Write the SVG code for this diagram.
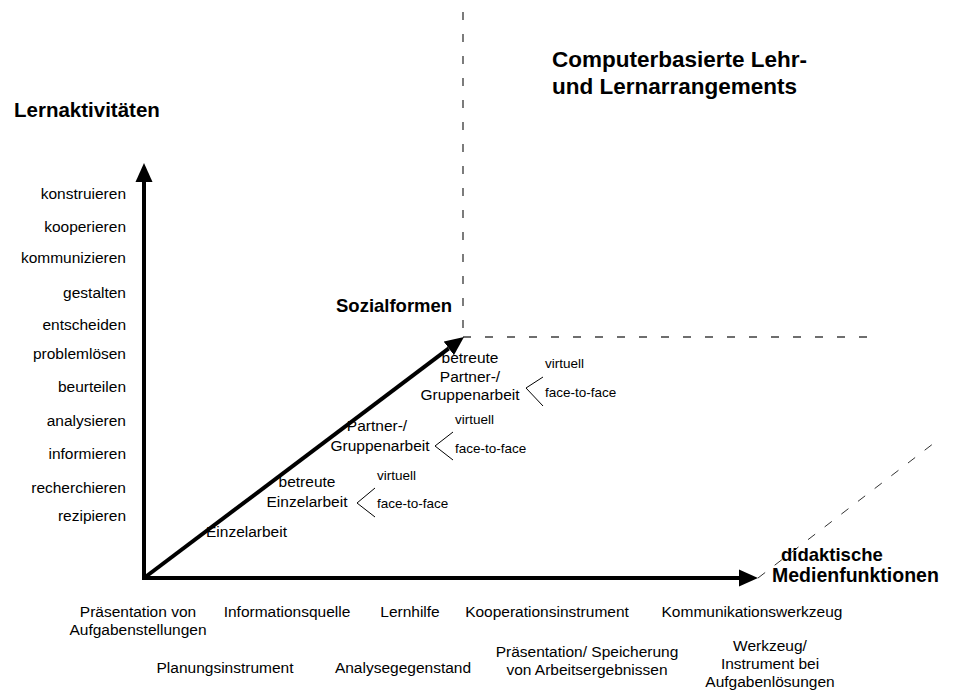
<svg xmlns="http://www.w3.org/2000/svg" width="953" height="691" viewBox="0 0 953 691">
<style>
text{font-family:"Liberation Sans",Arial,sans-serif;fill:#000}
.t{font-size:15.5px}
.s{font-size:13.5px}
.b{font-size:18.5px;font-weight:bold}
.h{font-size:22.5px;font-weight:bold}
.r{text-anchor:end}
.c{text-anchor:middle}
.ax{fill:none;stroke:#000;stroke-width:4;stroke-linejoin:miter}
.gd{fill:none;stroke:#6e6e6e;stroke-width:1.8;stroke-dasharray:8 14}
.dd{fill:none;stroke:#333;stroke-width:1;stroke-dasharray:9 12}
.br{fill:none;stroke:#000;stroke-width:1}
</style>
<defs>
<marker id="ah" markerUnits="userSpaceOnUse" markerWidth="20" markerHeight="18" viewBox="0 -9 20 18" refX="0" refY="0" orient="auto-start-reverse">
<path d="M0,-8.5 L19,0 L0,8.5 z" fill="#000"/>
</marker>
</defs>
<g id="connectors">
<path class="gd" d="M463,12 L463,337"/>
<path class="gd" d="M463,337 L880,337"/>
<path class="dd" d="M758,578 L938,440"/>
<path class="ax" d="M144,182 L144,578 L739,578" marker-start="url(#ah)" marker-end="url(#ah)"/>
<path class="ax" d="M144,578 L448.8,348.4" marker-end="url(#ah)"/>
<path class="br" d="M543,377 L526,388 L543,406"/>
<path class="br" d="M453,432 L435,446 L453,460"/>
<path class="br" d="M375,488 L357,503 L375,517"/>
</g>
<g id="title">
<text class="h" x="552" y="67">Computerbasierte Lehr-</text>
<text class="h" x="552" y="94">und Lernarrangements</text>
</g>
<g id="axis-lernaktivitaeten">
<text class="b" x="14" y="117" style="font-size:20.5px">Lernaktivitäten</text>
<text class="t r" x="126" y="199">konstruieren</text>
<text class="t r" x="126" y="232">kooperieren</text>
<text class="t r" x="126" y="263">kommunizieren</text>
<text class="t r" x="126" y="298">gestalten</text>
<text class="t r" x="126" y="330">entscheiden</text>
<text class="t r" x="126" y="359">problemlösen</text>
<text class="t r" x="126" y="392">beurteilen</text>
<text class="t r" x="126" y="426">analysieren</text>
<text class="t r" x="126" y="459">informieren</text>
<text class="t r" x="126" y="493">recherchieren</text>
<text class="t r" x="126" y="521">rezipieren</text>
</g>
<g id="axis-sozialformen">
<text class="b" x="336" y="312">Sozialformen</text>
<text class="t" x="206" y="537">Einzelarbeit</text>
</g>
<g id="betreute-einzelarbeit">
<text class="t c" x="307" y="487">betreute</text>
<text class="t c" x="307" y="507">Einzelarbeit</text>
<text class="s" x="377" y="480">virtuell</text>
<text class="s" x="377" y="508">face-to-face</text>
</g>
<g id="partner-gruppenarbeit">
<text class="t c" x="377" y="431">Partner-/</text>
<text class="t c" x="380" y="451">Gruppenarbeit</text>
<text class="s" x="455" y="424">virtuell</text>
<text class="s" x="455" y="453">face-to-face</text>
</g>
<g id="betreute-partner-gruppenarbeit">
<text class="t c" x="470" y="363">betreute</text>
<text class="t c" x="470" y="382">Partner-/</text>
<text class="t c" x="470" y="400">Gruppenarbeit</text>
<text class="s" x="545" y="368">virtuell</text>
<text class="s" x="545" y="397">face-to-face</text>
</g>
<g id="axis-medienfunktionen">
<text class="b" x="781" y="561">didaktische</text>
<text class="b" x="772" y="582" style="font-size:19.5px">Medienfunktionen</text>
</g>
<g id="medienfunktionen-labels">
<text class="t c" x="138" y="617">Präsentation von</text>
<text class="t c" x="138" y="635">Aufgabenstellungen</text>
<text class="t c" x="287" y="617">Informationsquelle</text>
<text class="t c" x="410" y="617">Lernhilfe</text>
<text class="t c" x="547" y="617">Kooperationsinstrument</text>
<text class="t c" x="752" y="617">Kommunikationswerkzeug</text>
<text class="t c" x="225" y="673">Planungsinstrument</text>
<text class="t c" x="403" y="673">Analysegegenstand</text>
<text class="t c" x="587" y="657">Präsentation/ Speicherung</text>
<text class="t c" x="587" y="675">von Arbeitsergebnissen</text>
<text class="t c" x="770" y="651">Werkzeug/</text>
<text class="t c" x="770" y="669">Instrument bei</text>
<text class="t c" x="770" y="687">Aufgabenlösungen</text>
</g>
</svg>
